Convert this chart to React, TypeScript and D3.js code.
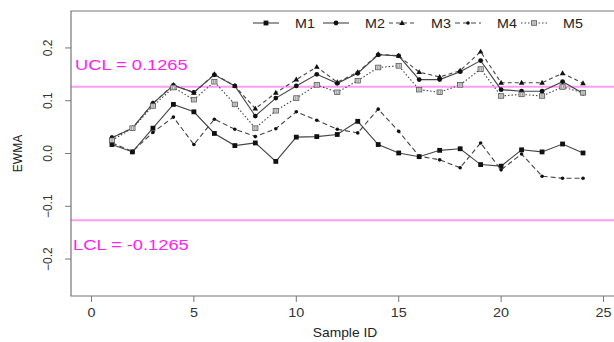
import React from "react";
import * as d3 from "d3";

const sampleIds = d3.range(1, 25);
const M1 = [0.017, 0.003, 0.048, 0.093, 0.079, 0.038, 0.015, 0.020, -0.015, 0.031, 0.032, 0.036, 0.061, 0.017, 0.001, -0.006, 0.006, 0.009, -0.021, -0.024, 0.007, 0.003, 0.018, 0.001];
const M2 = [0.030, 0.048, 0.095, 0.129, 0.116, 0.149, 0.128, 0.071, 0.105, 0.128, 0.150, 0.133, 0.152, 0.187, 0.185, 0.140, 0.140, 0.155, 0.176, 0.121, 0.118, 0.118, 0.136, 0.114];
const M3 = [0.030, 0.048, 0.095, 0.130, 0.115, 0.150, 0.128, 0.085, 0.115, 0.140, 0.164, 0.135, 0.154, 0.188, 0.185, 0.154, 0.145, 0.157, 0.193, 0.134, 0.134, 0.134, 0.152, 0.133];
const M4 = [0.020, 0.004, 0.040, 0.069, 0.017, 0.065, 0.046, 0.032, 0.047, 0.079, 0.063, 0.046, 0.039, 0.084, 0.042, -0.005, -0.012, -0.027, 0.020, -0.031, -0.001, -0.043, -0.047, -0.047];
const M5 = [0.025, 0.048, 0.090, 0.125, 0.102, 0.136, 0.093, 0.048, 0.081, 0.105, 0.130, 0.116, 0.138, 0.163, 0.166, 0.121, 0.116, 0.130, 0.160, 0.109, 0.112, 0.109, 0.126, 0.115];
const seriesNames = ["M1", "M2", "M3", "M4", "M5"];
const xTicks = [0, 5, 10, 15, 20, 25];
const yTicks = [-0.2, -0.1, 0.0, 0.1, 0.2];
const UCL = 0.1265;
const LCL = -0.1265;

const FONT = "'Liberation Sans', Arial, sans-serif";
const LINE = "#444";

const styles = [
  { dash: "none", marker: "square" },
  { dash: "none", marker: "circle" },
  { dash: "4,3", marker: "triangle" },
  { dash: "5,3", marker: "dot" },
  { dash: "1.5,2", marker: "box" },
];

function Marker({ type, x, y }: { type: string; x: number; y: number }) {
  if (type === "square") return <rect x={x - 2.4} y={y - 2.4} width={4.8} height={4.8} fill="#111" />;
  if (type === "circle") return <circle cx={x} cy={y} r={2.4} fill="#111" />;
  if (type === "triangle")
    return <path d={`M${x},${y - 3}L${x + 2.8},${y + 1.9}L${x - 2.8},${y + 1.9}Z`} fill="#111" />;
  if (type === "dot") return <circle cx={x} cy={y} r={1.8} fill="#111" />;
  return (
    <g>
      <rect x={x - 2.6} y={y - 2.3} width={5.2} height={4.6} fill="#ddd" stroke="#555" strokeWidth={0.8} />
      <line x1={x - 0.9} x2={x - 0.9} y1={y - 1.8} y2={y + 1.8} stroke="#777" strokeWidth={0.6} />
      <line x1={x + 0.9} x2={x + 0.9} y1={y - 1.8} y2={y + 1.8} stroke="#777" strokeWidth={0.6} />
    </g>
  );
}

export default function App() {
  const W = 614, H = 342;
  const left = 71, top = 11, bottom = 296, right = 624;
  const x = d3.scaleLinear().domain([-1, 26]).range([left, right]);
  const y = d3.scaleLinear().domain([-0.27, 0.27]).range([bottom, top]);
  const data = [M1, M2, M3, M4, M5];
  const line = d3.line<number>().x((_, i) => x(sampleIds[i])).y((d) => y(d));

  const legendX = [266, 336, 402, 468, 534];

  return (
    <svg width={W} height={H} style={{ position: "absolute", left: 0, top: 0, background: "#fff" }} fontFamily={FONT}>
      {/* control limits */}
      <line x1={left} x2={W} y1={y(UCL)} y2={y(UCL)} stroke="#ff9cf5" strokeWidth={2} />
      <line x1={left} x2={W} y1={y(LCL)} y2={y(LCL)} stroke="#ff9cf5" strokeWidth={2} />
      <text transform={`translate(75,70) scale(1.22,1)`} fontSize={15} fill="#ff22ee">UCL = 0.1265</text>
      <text transform={`translate(73,250) scale(1.22,1)`} fontSize={15} fill="#ff22ee">LCL = -0.1265</text>

      {/* series */}
      {data.map((s, k) => (
        <g key={seriesNames[k]}>
          <path d={line(s) || ""} fill="none" stroke={LINE} strokeWidth={1.1} strokeDasharray={styles[k].dash} />
          {s.map((v, i) => (
            <Marker key={i} type={styles[k].marker} x={x(sampleIds[i])} y={y(v)} />
          ))}
        </g>
      ))}

      {/* frame */}
      <path d={`M${right},${top}H${left}V${bottom}H${right}`} fill="none" stroke="#777" strokeWidth={1.2} />

      {/* y axis */}
      {yTicks.map((t) => (
        <g key={t}>
          <line x1={left - 6} x2={left} y1={y(t)} y2={y(t)} stroke="#777" strokeWidth={1} />
          <text
            transform={`translate(${left - 19},${y(t)}) rotate(-90)`}
            textAnchor="middle"
            fontSize={12}
            fill="#333"
          >
            {d3.format(".1f")(t)}
          </text>
        </g>
      ))}
      <text transform={`translate(22,${(top + bottom) / 2}) rotate(-90)`} textAnchor="middle" fontSize={12} fill="#222">
        EWMA
      </text>

      {/* x axis */}
      {xTicks.map((t) => (
        <g key={t}>
          <line x1={x(t)} x2={x(t)} y1={bottom} y2={bottom + 6} stroke="#777" strokeWidth={1} />
          <text transform={`translate(${x(t)},${bottom + 21}) scale(1.2,1)`} textAnchor="middle" fontSize={12} fill="#333">
            {t}
          </text>
        </g>
      ))}
      <text transform={`translate(345,337) scale(1.15,1)`} textAnchor="middle" fontSize={12} fill="#222">
        Sample ID
      </text>

      {/* legend */}
      {seriesNames.map((n, k) => (
        <g key={n}>
          <line x1={legendX[k] - 13} x2={legendX[k] + 13} y1={23} y2={23} stroke={LINE} strokeWidth={1.1} strokeDasharray={styles[k].dash} />
          <Marker type={styles[k].marker} x={legendX[k]} y={23} />
          <text transform={`translate(${legendX[k] + 29},28) scale(1.1,1)`} fontSize={13} fill="#222">{n}</text>
        </g>
      ))}
    </svg>
  );
}
